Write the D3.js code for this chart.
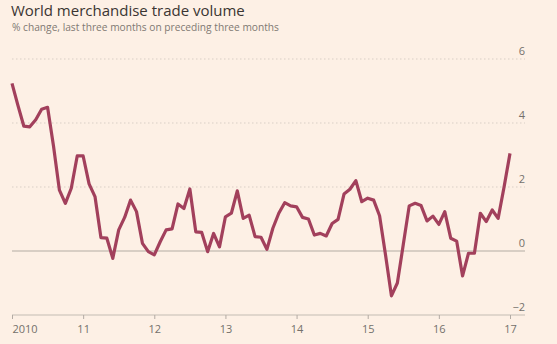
<!DOCTYPE html>
<html>
<head>
<meta charset="utf-8">
<script src="https://cdn.jsdelivr.net/npm/d3@7"></script>
<style>
  html, body { margin: 0; padding: 0; background: #fdf0e5; }
  svg { display: block; }
</style>
</head>
<body>
<script>
// ---- Data ----
const title = "World merchandise trade volume";
const subtitle = "% change, last three months on preceding three months";
const startYear = 2010; // monthly series starting Jan 2010
const values = [
  5.24, 4.55, 3.90, 3.88, 4.10, 4.43, 4.49, 3.28, 1.90, 1.49, 1.96, 2.97,
  2.97, 2.10, 1.70, 0.42, 0.40, -0.23, 0.66, 1.05, 1.59, 1.23, 0.24, -0.02,
  -0.12, 0.29, 0.66, 0.69, 1.47, 1.33, 1.94, 0.60, 0.58, -0.02, 0.55, 0.13,
  1.07, 1.18, 1.88, 1.02, 1.12, 0.45, 0.43, 0.05, 0.71, 1.18, 1.51, 1.41,
  1.38, 1.05, 1.00, 0.50, 0.55, 0.47, 0.86, 0.99, 1.78, 1.93, 2.20, 1.54,
  1.65, 1.59, 1.10, -0.12, -1.40, -1.00, 0.20, 1.41, 1.49, 1.42, 0.94, 1.09,
  0.83, 1.23, 0.40, 0.31, -0.78, -0.07, -0.07, 1.18, 0.92, 1.28, 1.02, 2.00,
  3.05
];
const xTickValues = [2010, 2011, 2012, 2013, 2014, 2015, 2016, 2017];
const xTickLabels = ["2010", "11", "12", "13", "14", "15", "16", "17"];
const yTickValues = [-2, 0, 2, 4, 6];

// ---- Layout ----
const W = 557, H = 344;
const svg = d3.select("body").append("svg").attr("width", W).attr("height", H);
svg.append("rect").attr("width", W).attr("height", H).attr("fill", "#fdf0e5");

const x = d3.scaleLinear().domain([2010, 2017]).range([12, 510]);
const y = d3.scaleLinear().domain([-2, 6]).range([315, 59]);
const gridRight = 525;

const font = "'Open Sans', 'Noto Sans', sans-serif";

// Title
svg.append("text").attr("x", 11).attr("y", 15.5)
  .attr("font-family", font).attr("font-size", 15).attr("fill", "#3a3532")
  .text(title);
svg.append("text").attr("x", 12).attr("y", 31)
  .attr("font-family", font).attr("font-size", 10.2).attr("fill", "#807973")
  .text(subtitle);

// Gridlines
const grid = svg.append("g");
yTickValues.forEach(v => {
  const line = grid.append("line")
    .attr("x1", 12).attr("x2", gridRight)
    .attr("y1", y(v)).attr("y2", y(v));
  if (v === 0) {
    line.attr("stroke", "#b3aba4").attr("stroke-width", 1.2);
  } else if (v === -2) {
    line.attr("stroke", "#c4bbb3").attr("stroke-width", 1.2);
  } else {
    line.attr("stroke", "#d9cfc6").attr("stroke-width", 1).attr("stroke-dasharray", "1.5,2.5");
  }
});

// Y labels
const yAxis = d3.axisRight(y).tickValues(yTickValues).tickSize(0).tickFormat(d3.format("d"));
const gy = svg.append("g").attr("transform", `translate(${gridRight},0)`).call(yAxis);
gy.select(".domain").remove();
gy.selectAll("text")
  .attr("x", 0).attr("dy", "-0.45em")
  .attr("text-anchor", "end")
  .attr("font-family", font).attr("font-size", 11).attr("fill", "#74706b");

// X axis
const xAxis = d3.axisBottom(x).tickValues(xTickValues).tickSize(4).tickPadding(6)
  .tickFormat((d, i) => xTickLabels[i]);
const gx = svg.append("g").attr("transform", `translate(0,${y(-2)})`).call(xAxis);
gx.select(".domain").remove();
gx.selectAll("line").attr("stroke", "#b3aba4");
gx.selectAll("text")
  .attr("font-family", font).attr("font-size", 11).attr("fill", "#74706b")
  .attr("text-anchor", (d, i) => i === 0 ? "start" : "middle");

// Line
const line = d3.line()
  .x((d, i) => x(startYear + i / 12))
  .y(d => y(d));
svg.append("path").datum(values)
  .attr("d", line)
  .attr("fill", "none")
  .attr("stroke", "#a2405c")
  .attr("stroke-width", 3.2)
  .attr("stroke-linejoin", "round");
</script>
</body>
</html>
